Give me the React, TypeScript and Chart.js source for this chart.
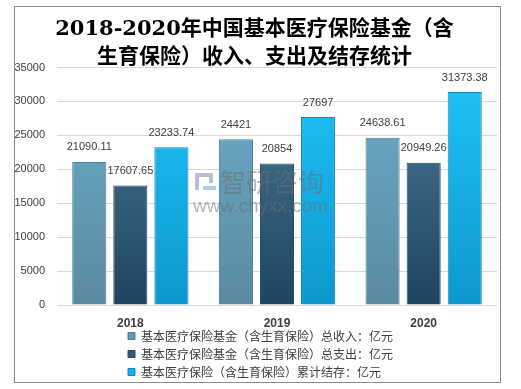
import React, { useEffect, useRef } from "react";
import { Chart, registerables } from "chart.js";

Chart.register(...registerables);

const categories = ["2018", "2019", "2020"];
const seriesNames = [
  "基本医疗保险基金（含生育保险）总收入：亿元",
  "基本医疗保险基金（含生育保险）总支出：亿元",
  "基本医疗保险（含生育保险）累计结存：亿元",
];
const income = [21090.11, 24421, 24638.61];
const expense = [17607.65, 20854, 20949.26];
const balance = [23233.74, 27697, 31373.38];
const incomeLabels = ["21090.11", "24421", "24638.61"];
const expenseLabels = ["17607.65", "20854", "20949.26"];
const balanceLabels = ["23233.74", "27697", "31373.38"];
const titleLines = ["2018-2020年中国基本医疗保险基金（含", "生育保险）收入、支出及结存统计"];
const yMax = 35000;
const yStep = 5000;

const SANS = "'Liberation Sans', 'Noto Sans CJK SC', sans-serif";
const CJK = "'Noto Sans CJK SC', 'Liberation Sans', sans-serif";

const gradients: [string, string][] = [
  ["#6cadcc", "#5a8aa1"],
  ["#4d7c9a", "#1d4460"],
  ["#22c3f9", "#0c98cf"],
];
const solid = ["#5f9ab6", "#2f5b78", "#16aee6"];
const borders = ["#4a7f98", "#27475f", "#1587bd"];

function gradFill(i: number) {
  return (ctx: any) => {
    const chart = ctx.chart;
    const area = chart.chartArea;
    if (!area) return solid[i];
    const g = chart.ctx.createLinearGradient(0, area.top, 0, area.bottom);
    g.addColorStop(0, gradients[i][0]);
    g.addColorStop(1, gradients[i][1]);
    return g;
  };
}

const framePlugin = {
  id: "frame",
  beforeDraw(chart: any) {
    const { ctx, width, height } = chart;
    ctx.save();
    ctx.fillStyle = "#ffffff";
    ctx.fillRect(0, 0, width, height);
    ctx.strokeStyle = "#8c8c8c";
    ctx.lineWidth = 1;
    ctx.strokeRect(14.5, 6.5, width - 35, height - 13);
    ctx.restore();
  },
};

const layoutTweak = {
  id: "layoutTweak",
  afterLayout(chart: any) {
    const lg = chart.legend;
    if (lg) lg.left = 122;
    const x = chart.scales.x;
    if (x) x.bottom = x.top + 40;
  },
};

const valueLabels = {
  id: "valueLabels",
  afterDatasetsDraw(chart: any) {
    const { ctx } = chart;
    const all = [incomeLabels, expenseLabels, balanceLabels];
    ctx.save();
    // watermark
    ctx.textBaseline = "middle";
    ctx.textAlign = "left";
    ctx.fillStyle = "rgba(110,110,110,0.5)";
    ctx.font = `26px ${CJK}`;
    ctx.fillText("智研咨询", 220, 182);
    ctx.font = `19px ${SANS}`;
    ctx.fillText("www.chyxx.com", 193, 207);
    ctx.fillStyle = "rgba(110,130,180,0.5)";
    ctx.fillRect(195, 173, 4, 17);
    ctx.fillRect(199, 173, 14, 4);
    ctx.fillRect(209, 177, 4, 6);
    ctx.fillStyle = "rgba(90,160,220,0.5)";
    ctx.fillRect(203, 186, 13, 4);
    // value labels
    ctx.font = `11px ${SANS}`;
    ctx.fillStyle = "#404040";
    ctx.textAlign = "center";
    chart.data.datasets.forEach((_ds: any, di: number) => {
      const meta = chart.getDatasetMeta(di);
      meta.data.forEach((bar: any, i: number) => {
        ctx.fillText(all[di][i], bar.x, bar.y - 14.5);
      });
    });
    ctx.restore();
  },
};

export default function App() {
  const ref = useRef<HTMLCanvasElement | null>(null);
  useEffect(() => {
    if (!ref.current) return;
    const chart = new Chart(ref.current, {
      type: "bar",
      data: {
        labels: categories,
        datasets: [income, expense, balance].map((d, i) => ({
          label: seriesNames[i],
          data: d,
          backgroundColor: gradFill(i),
          borderColor: borders[i],
          borderWidth: 1,
          categoryPercentage: 0.84,
          barPercentage: 0.83,
        })),
      },
      options: {
        responsive: false,
        animation: false,
        devicePixelRatio: 1,
        layout: { padding: { left: 12, right: 24, top: 6, bottom: 1 } },
        scales: {
          x: {
            grid: { display: false, drawTicks: false },
            border: { display: false },
            ticks: {
              padding: 11,
              color: "#404040",
              font: { family: SANS, size: 12, weight: "bold" },
            },
            afterFit: (s: any) => {
              s.height = 19;
            },
          },
          y: {
            min: 0,
            max: yMax,
            grid: { color: "#d9d9d9", drawTicks: false },
            border: { display: false },
            ticks: {
              stepSize: yStep,
              padding: 12,
              color: "#404040",
              font: { family: SANS, size: 11 },
              callback: (v: any) => String(v),
            },
            afterFit: (s: any) => {
              s.width = 45;
            },
          },
        },
        plugins: {
          title: {
            display: true,
            text: titleLines,
            color: "#000000",
            font: { family: "'DejaVu Serif', 'Noto Sans CJK SC', serif", size: 21, weight: "bold", lineHeight: "28px" },
            padding: { top: 10, bottom: -4.5 },
          },
          legend: {
            display: true,
            position: "bottom",
            align: "start",
            labels: {
              boxWidth: 7,
              boxHeight: 7,
              padding: 6,
              color: "#404040",
              font: { family: CJK, size: 12 },
              generateLabels: (c: any) =>
                c.data.datasets.map((ds: any, i: number) => ({
                  text: ds.label,
                  fillStyle: solid[i],
                  strokeStyle: borders[i],
                  lineWidth: 1,
                  hidden: false,
                  datasetIndex: i,
                  fontColor: "#404040",
                })),
            },
          },
          tooltip: { enabled: false },
        },
      },
      plugins: [framePlugin, layoutTweak, valueLabels],
    } as any);
    return () => chart.destroy();
  }, []);
  return (
    <canvas
      ref={ref}
      width={521}
      height={389}
      style={{ position: "fixed", left: 0, top: 0, display: "block" }}
    />
  );
}
